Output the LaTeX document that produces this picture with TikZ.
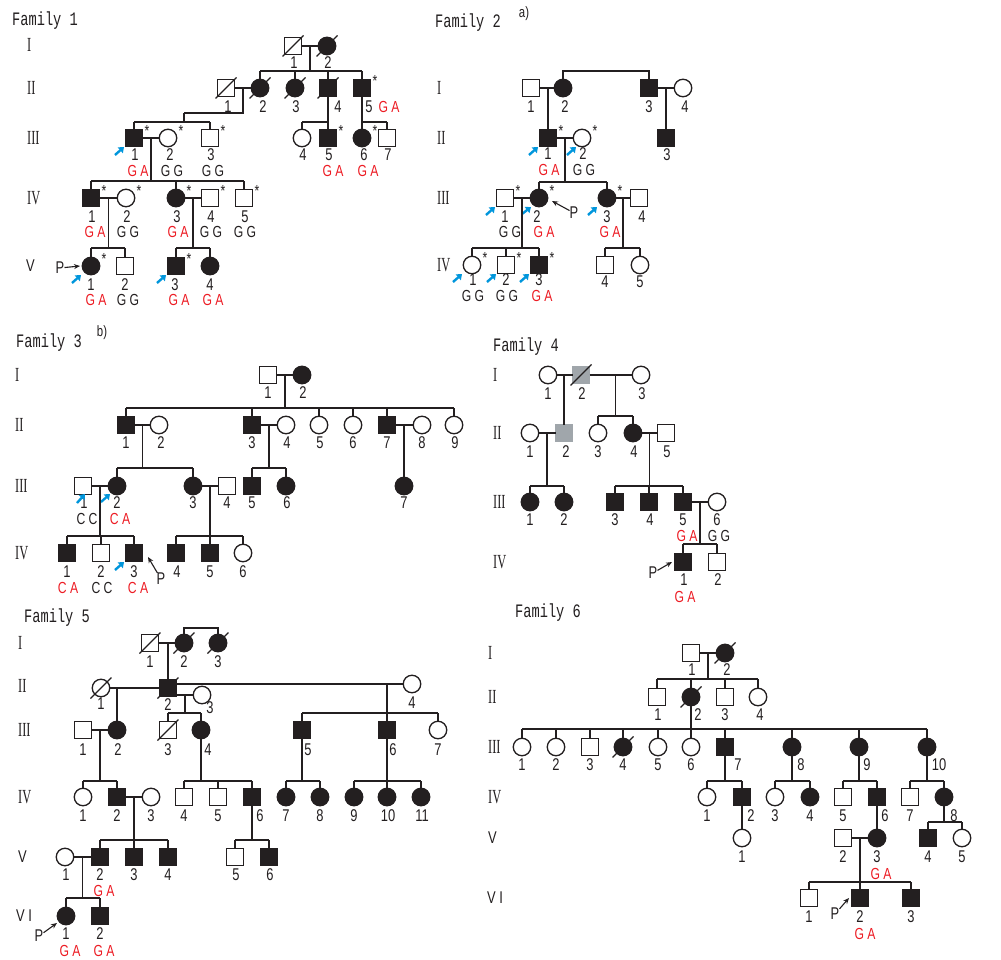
\documentclass[tikz,border=0pt]{standalone}
\usepackage{fontspec}
\usetikzlibrary{calc,arrows.meta}
\newfontfamily\lblf[FakeStretch=0.76]{Liberation Sans}
\newfontfamily\ttlf[FakeStretch=0.72]{Liberation Mono}
\newfontfamily\romf[FakeStretch=0.62]{Liberation Serif}
\definecolor{aff}{RGB}{35,31,32}
\definecolor{gred}{RGB}{237,28,36}
\definecolor{pblue}{RGB}{0,150,220}
\definecolor{pgray}{RGB}{160,166,171}
\tikzset{
  sym/.style={draw=aff,line width=1.3pt,inner sep=0pt,outer sep=0pt},
  ml/.style={sym,rectangle,minimum size=17pt,fill=white},
  fe/.style={sym,circle,minimum size=17.5pt,fill=white},
  af/.style={fill=aff},
  gy/.style={fill=pgray,draw=pgray},
  ln/.style={draw=aff,line width=1.3pt},
  num/.style={font=\lblf\fontsize{17}{17}\selectfont,inner sep=0pt,text=aff},
  gtx/.style={font=\lblf\fontsize{16}{16}\selectfont,inner sep=0pt},
  gen/.style={font=\romf\fontsize{20}{20}\selectfont,inner sep=0pt,anchor=west,text=aff},
  genv/.style={font=\lblf\fontsize{17}{17}\selectfont,inner sep=0pt,anchor=west,text=aff},
  ttl/.style={font=\ttlf\fontsize{19}{19}\selectfont,inner sep=0pt,anchor=west,text=aff},
  supx/.style={font=\lblf\fontsize{15}{15}\selectfont,inner sep=0pt,text=aff},
  ast/.style={font=\lblf\fontsize{16}{16}\selectfont,inner sep=0pt,text=aff},
  barr/.style={draw=pblue,line width=2.4pt,-{Triangle[length=5pt,width=7.5pt]}},
  parr/.style={draw=aff,line width=1.1pt,-{Stealth[length=6pt,width=5pt]}},
}
\newcommand\numl[4]{\node[num] (#1l) at (#2,#3) {#4};}
\newcommand\gtyp[5]{\node[gtx,text=#5] (#1g) at (#2,#3) {#4};}
\newcommand\astr[1]{\node[ast] (#1a) at ($(#1)+(13,-7)$) {*};}
\newcommand\decd[1]{\draw[ln] ($(#1)+(-10.5,10.5)$) -- ($(#1)+(10.5,-10.5)$);}
\newcommand\blarr[1]{\draw[barr] ($(#1)+(-19,17)$) -- ($(#1)+(-10,9)$);}
\newcommand\marr[3]{\draw[ln] (#1) -- coordinate (#3) (#2);}
\newcommand\sibs[3]{%
  \coordinate (sbY) at (0,#2);
  \draw[ln] (#1) -- (#1 |- sbY);
  \foreach \c [count=\i] in {#3} {\draw[ln] (\c) -- (\c |- sbY);
    \ifnum\i=1 \xdef\sbfirst{\c}\fi \xdef\sblast{\c}}
  \draw[ln] (\sbfirst |- sbY) -- (\sblast |- sbY);
}
\begin{document}
\begin{tikzpicture}[x=1pt,y=-1pt]
\useasboundingbox (0,0) rectangle (1001,960);
\fill[white] (0,0) rectangle (1001,960);
% ================= FAMILY 1 =================
\node[ttl] (t1) at (12,21) {Family 1};
\node[gen] (a1g) at (27,45) {I};
\node[gen] (a2g) at (27,88) {II};
\node[gen] (a3g) at (27,138) {III};
\node[gen] (a4g) at (27,198) {IV};
\node[genv] (a5g) at (26,266) {V};
\node[ml] (a1p1) at (293,46) {}; \decd{a1p1}
\node[fe,af] (a1p2) at (327,46) {}; \decd{a1p2}
\numl{a1p1}{294}{63}{1} \numl{a1p2}{328}{63}{2}
\marr{a1p1}{a1p2}{a1m}
\node[ml] (a2p1) at (226,88) {}; \decd{a2p1}
\node[fe,af] (a2p2) at (260,88) {}; \decd{a2p2}
\node[fe,af] (a2p3) at (295,88) {}; \decd{a2p3}
\node[ml,af] (a2p4) at (328,88) {}; \decd{a2p4}
\node[ml,af] (a2p5) at (362,88) {}; \astr{a2p5}
\numl{a2p1}{228}{107}{1} \numl{a2p2}{263}{107}{2} \numl{a2p3}{296}{107}{3}
\numl{a2p4}{338}{107}{4} \numl{a2p5}{369}{107}{5}
\gtyp{a2p5}{389}{107}{G A}{gred}
\sibs{a1m}{71}{a2p2,a2p3,a2p4,a2p5}
\marr{a2p1}{a2p2}{a2m}
\coordinate (a2j) at (184,113);
\draw[ln] (a2m) |- (a2j);
\node[ml,af] (a3p1) at (134,138) {}; \astr{a3p1} \blarr{a3p1}
\node[fe] (a3p2) at (168,138) {}; \astr{a3p2}
\node[ml] (a3p3) at (210,138) {}; \astr{a3p3}
\node[fe] (a3p4) at (302,138) {};
\node[ml,af] (a3p5) at (328,138) {}; \astr{a3p5}
\node[fe,af] (a3p6) at (362,138) {}; \astr{a3p6}
\node[ml] (a3p7) at (387,138) {};
\sibs{a2j}{122}{a3p1,a3p3}
\sibs{a2p4}{122}{a3p4,a3p5}
\sibs{a2p5}{122}{a3p6,a3p7}
\numl{a3p1}{135}{155}{1} \numl{a3p2}{170}{155}{2} \numl{a3p3}{211}{155}{3}
\numl{a3p4}{303}{155}{4} \numl{a3p5}{329}{155}{5} \numl{a3p6}{364}{155}{6} \numl{a3p7}{388}{155}{7}
\gtyp{a3p1}{138}{171}{G A}{gred} \gtyp{a3p2}{172}{171}{G G}{aff} \gtyp{a3p3}{213}{171}{G G}{aff}
\gtyp{a3p5}{333}{171}{G A}{gred} \gtyp{a3p6}{368}{171}{G A}{gred}
\marr{a3p1}{a3p2}{a3m}
\node[ml,af] (a4p1) at (91,198) {}; \astr{a4p1}
\node[fe] (a4p2) at (126,198) {}; \astr{a4p2}
\node[fe,af] (a4p3) at (176,198) {}; \astr{a4p3}
\node[ml] (a4p4) at (210,198) {}; \astr{a4p4}
\node[ml] (a4p5) at (244,198) {}; \astr{a4p5}
\sibs{a3m}{181}{a4p1,a4p3,a4p5}
\numl{a4p1}{92}{217}{1} \numl{a4p2}{127}{217}{2} \numl{a4p3}{177}{217}{3}
\numl{a4p4}{211}{217}{4} \numl{a4p5}{245}{217}{5}
\gtyp{a4p1}{95}{232}{G A}{gred} \gtyp{a4p2}{128}{232}{G G}{aff} \gtyp{a4p3}{178}{232}{G A}{gred}
\gtyp{a4p4}{211}{232}{G G}{aff} \gtyp{a4p5}{245}{232}{G G}{aff}
\marr{a4p1}{a4p2}{a4m}
\marr{a4p3}{a4p4}{a4n}
\node[fe,af] (a5p1) at (91,266) {}; \astr{a5p1} \blarr{a5p1}
\node[ml] (a5p2) at (125,266) {};
\node[ml,af] (a5p3) at (176,266) {}; \astr{a5p3} \blarr{a5p3}
\node[fe,af] (a5p4) at (210,266) {};
\sibs{a4m}{248}{a5p1,a5p2}
\sibs{a4n}{248}{a5p3,a5p4}
\numl{a5p1}{91}{285}{1} \numl{a5p2}{125}{285}{2} \numl{a5p3}{175}{285}{3} \numl{a5p4}{210}{285}{4}
\gtyp{a5p1}{96}{300}{G A}{gred} \gtyp{a5p2}{128}{300}{G G}{aff}
\gtyp{a5p3}{179}{300}{G A}{gred} \gtyp{a5p4}{213}{300}{G A}{gred}
\node[num] (a5P) at (60,268) {P}; \coordinate (a5Pt) at (80,266);
\draw[parr] (a5P) -- (a5Pt);
% ================= FAMILY 2 =================
\node[ttl] (t2) at (435,23) {Family 2};
\node[supx] (t2s) at (524,14) {a)};
\node[gen] (b1g) at (437,88) {I};
\node[gen] (b2g) at (437,138) {II};
\node[gen] (b3g) at (437,198) {III};
\node[gen] (b4g) at (437,265) {IV};
\node[ml] (b1p1) at (531,88) {};
\node[fe,af] (b1p2) at (563,88) {};
\node[ml,af] (b1p3) at (649,88) {};
\node[fe] (b1p4) at (683,88) {};
\numl{b1p1}{531}{107}{1} \numl{b1p2}{565}{107}{2} \numl{b1p3}{649}{107}{3} \numl{b1p4}{685}{107}{4}
\coordinate (b1s) at (0,71);
\draw[ln] (b1p2) -- (b1p2 |- b1s) -- (b1p3 |- b1s) -- (b1p3);
\marr{b1p1}{b1p2}{b1m}
\marr{b1p3}{b1p4}{b1n}
\node[ml,af] (b2p1) at (548,138) {}; \astr{b2p1} \blarr{b2p1}
\node[fe] (b2p2) at (582,138) {}; \astr{b2p2}
\draw[barr] ($(b2p2)+(-15,17)$) -- ($(b2p2)+(-6,9)$);
\node[ml,af] (b2p3) at (666,138) {};
\draw[ln] (b2p1) -- (b2p1 |- b1m);
\draw[ln] (b2p3) -- (b2p3 |- b1n);
\numl{b2p1}{548}{154}{1} \numl{b2p2}{583}{154}{2} \numl{b2p3}{667}{155}{3}
\gtyp{b2p1}{549}{170}{G A}{gred} \gtyp{b2p2}{584}{170}{G G}{aff}
\marr{b2p1}{b2p2}{b2m}
\node[ml] (b3p1) at (505,198) {}; \astr{b3p1} \blarr{b3p1}
\node[fe,af] (b3p2) at (539,198) {}; \astr{b3p2}
\draw[barr] ($(b3p2)+(-17,16)$) -- ($(b3p2)+(-8,9)$);
\node[fe,af] (b3p3) at (607,198) {}; \astr{b3p3} \blarr{b3p3}
\node[ml] (b3p4) at (639,198) {};
\sibs{b2m}{182}{b3p2,b3p3}
\numl{b3p1}{505}{217}{1} \numl{b3p2}{537}{217}{2} \numl{b3p3}{607}{217}{3} \numl{b3p4}{642}{217}{4}
\gtyp{b3p1}{510}{232}{G G}{aff} \gtyp{b3p2}{544}{232}{G A}{gred} \gtyp{b3p3}{610}{232}{G A}{gred}
\node[num] (b3P) at (574,213) {P}; \coordinate (b3Pt) at (552,201);
\draw[parr] (b3P) -- (b3Pt);
\marr{b3p1}{b3p2}{b3m}
\marr{b3p3}{b3p4}{b3n}
\node[fe] (b4p1) at (472,265) {}; \astr{b4p1} \blarr{b4p1}
\node[ml] (b4p2) at (506,265) {}; \astr{b4p2} \blarr{b4p2}
\node[ml,af] (b4p3) at (539,265) {}; \astr{b4p3} \blarr{b4p3}
\node[ml] (b4p4) at (605,265) {};
\node[fe] (b4p5) at (640,265) {};
\sibs{b3m}{248}{b4p1,b4p2,b4p3}
\sibs{b3n}{248}{b4p4,b4p5}
\numl{b4p1}{473}{280}{1} \numl{b4p2}{506}{280}{2} \numl{b4p3}{539}{280}{3}
\numl{b4p4}{605}{282}{4} \numl{b4p5}{640}{282}{5}
\gtyp{b4p1}{473}{296}{G G}{aff} \gtyp{b4p2}{507}{296}{G G}{aff} \gtyp{b4p3}{542}{296}{G A}{gred}
% ================= FAMILY 3 =================
\node[ttl] (t3) at (16,343) {Family 3};
\node[supx] (t3s) at (102,333) {b)};
\node[gen] (c1g) at (15,375) {I};
\node[gen] (c2g) at (15,425) {II};
\node[gen] (c3g) at (15,486) {III};
\node[gen] (c4g) at (15,553) {IV};
\node[ml] (c1p1) at (268,375) {};
\node[fe,af] (c1p2) at (302,375) {};
\numl{c1p1}{268}{393}{1} \numl{c1p2}{303}{393}{2}
\marr{c1p1}{c1p2}{c1m}
\node[ml,af] (c2p1) at (126,425) {};
\node[fe] (c2p2) at (159,425) {};
\node[ml,af] (c2p3) at (252,425) {};
\node[fe] (c2p4) at (286,425) {};
\node[fe] (c2p5) at (319,425) {};
\node[fe] (c2p6) at (353,425) {};
\node[ml,af] (c2p7) at (387,425) {};
\node[fe] (c2p8) at (422,425) {};
\node[fe] (c2p9) at (454,425) {};
\sibs{c1m}{408}{c2p1,c2p3,c2p5,c2p6,c2p7,c2p9}
\numl{c2p1}{126}{443}{1} \numl{c2p2}{161}{443}{2} \numl{c2p3}{252}{443}{3}
\numl{c2p4}{287}{443}{4} \numl{c2p5}{320}{443}{5} \numl{c2p6}{353}{443}{6}
\numl{c2p7}{387}{443}{7} \numl{c2p8}{422}{443}{8} \numl{c2p9}{455}{443}{9}
\marr{c2p1}{c2p2}{c2m}
\marr{c2p3}{c2p4}{c2n}
\marr{c2p7}{c2p8}{c2o}
\node[ml] (c3p1) at (83,486) {};
\node[fe,af] (c3p2) at (117,486) {};
\node[fe,af] (c3p3) at (193,486) {};
\node[ml] (c3p4) at (227,486) {};
\node[ml,af] (c3p5) at (252,486) {};
\node[fe,af] (c3p6) at (286,486) {};
\node[fe,af] (c3p7) at (404,486) {};
\sibs{c2m}{468}{c3p2,c3p3}
\sibs{c2n}{468}{c3p5,c3p6}
\draw[ln] (c3p7) -- (c3p7 |- c2o);
\numl{c3p1}{84}{503}{1} \numl{c3p2}{117}{503}{2} \numl{c3p3}{193}{503}{3}
\numl{c3p4}{227}{503}{4} \numl{c3p5}{252}{503}{5} \numl{c3p6}{287}{503}{6} \numl{c3p7}{404}{503}{7}
\draw[barr] ($(c3p1)+(-6,17)$) -- ($(c3p1)+(2,8)$);
\draw[barr] ($(c3p2)+(-16,16)$) -- ($(c3p2)+(-7,8)$);
\gtyp{c3p1}{87}{519}{C C}{aff} \gtyp{c3p2}{120}{519}{C A}{gred}
\marr{c3p1}{c3p2}{c3m}
\marr{c3p3}{c3p4}{c3n}
\node[ml,af] (c4p1) at (67,553) {};
\node[ml] (c4p2) at (101,553) {};
\node[ml,af] (c4p3) at (134,553) {}; \blarr{c4p3}
\node[ml,af] (c4p4) at (176,553) {};
\node[ml,af] (c4p5) at (210,553) {};
\node[fe] (c4p6) at (243,553) {};
\sibs{c3m}{536}{c4p1,c4p2,c4p3}
\sibs{c3n}{536}{c4p4,c4p5,c4p6}
\numl{c4p1}{67}{572}{1} \numl{c4p2}{101}{572}{2} \numl{c4p3}{134}{572}{3}
\numl{c4p4}{177}{572}{4} \numl{c4p5}{210}{572}{5} \numl{c4p6}{243}{572}{6}
\gtyp{c4p1}{68}{588}{C A}{gred} \gtyp{c4p2}{102}{588}{C C}{aff} \gtyp{c4p3}{138}{588}{C A}{gred}
\node[num] (c4P) at (161,579) {P}; \coordinate (c4Pt) at (148,557);
\draw[parr] (c4P) -- (c4Pt);
% ================= FAMILY 4 =================
\node[ttl] (t4) at (493,347) {Family 4};
\node[gen] (d1g) at (493,375) {I};
\node[gen] (d2g) at (493,433) {II};
\node[gen] (d3g) at (493,502) {III};
\node[gen] (d4g) at (493,562) {IV};
\node[fe] (d1p1) at (548,375) {};
\node[ml,gy] (d1p2) at (581,375) {}; \decd{d1p2}
\node[fe] (d1p3) at (641,375) {};
\numl{d1p1}{548}{394}{1} \numl{d1p2}{582}{394}{2} \numl{d1p3}{642}{394}{3}
\marr{d1p1}{d1p2}{d1m}
\draw[ln] (d1p2) -- coordinate[pos=0.6] (d1n) (d1p3);
\node[fe] (d2p1) at (530,433) {};
\node[ml,gy] (d2p2) at (564,433) {};
\node[fe] (d2p3) at (598,433) {};
\node[fe,af] (d2p4) at (633,433) {};
\node[ml] (d2p5) at (666,433) {};
\draw[ln] (d2p2) -- (d2p2 |- d1m);
\sibs{d1n}{416}{d2p3,d2p4}
\numl{d2p1}{530}{452}{1} \numl{d2p2}{566}{452}{2} \numl{d2p3}{598}{452}{3}
\numl{d2p4}{634}{452}{4} \numl{d2p5}{667}{452}{5}
\marr{d2p1}{d2p2}{d2m}
\marr{d2p4}{d2p5}{d2n}
\node[fe,af] (d3p1) at (530,502) {};
\node[fe,af] (d3p2) at (564,502) {};
\node[ml,af] (d3p3) at (615,502) {};
\node[ml,af] (d3p4) at (649,502) {};
\node[ml,af] (d3p5) at (683,502) {};
\node[fe] (d3p6) at (717,502) {};
\sibs{d2m}{486}{d3p1,d3p2}
\sibs{d2n}{486}{d3p3,d3p4,d3p5}
\numl{d3p1}{530}{520}{1} \numl{d3p2}{564}{520}{2} \numl{d3p3}{615}{520}{3}
\numl{d3p4}{650}{520}{4} \numl{d3p5}{683}{520}{5} \numl{d3p6}{717}{520}{6}
\gtyp{d3p5}{687}{536}{G A}{gred} \gtyp{d3p6}{719}{536}{G G}{aff}
\marr{d3p5}{d3p6}{d3m}
\node[ml,af] (d4p1) at (683,562) {};
\node[ml] (d4p2) at (717,562) {};
\sibs{d3m}{544}{d4p1,d4p2}
\numl{d4p1}{684}{580}{1} \numl{d4p2}{718}{580}{2}
\gtyp{d4p1}{685}{597}{G A}{gred}
\node[num] (d4P) at (653,573) {P}; \coordinate (d4Pt) at (672,562);
\draw[parr] (d4P) -- (d4Pt);
% ================= FAMILY 5 =================
\node[ttl] (t5) at (24,618) {Family 5};
\node[gen] (e1g) at (18,643) {I};
\node[gen] (e2g) at (18,686) {II};
\node[gen] (e3g) at (18,730) {III};
\node[gen] (e4g) at (18,797) {IV};
\node[genv] (e5g) at (18,857) {V};
\node[genv] (e6g) at (16,916) {V I};
\node[ml] (e1p1) at (150,643) {}; \decd{e1p1}
\node[fe,af] (e1p2) at (184,643) {}; \decd{e1p2}
\node[fe,af] (e1p3) at (218,643) {}; \decd{e1p3}
\numl{e1p1}{150}{662}{1} \numl{e1p2}{184}{662}{2} \numl{e1p3}{218}{662}{3}
\coordinate (e1s) at (0,628);
\draw[ln] (e1p2) -- (e1p2 |- e1s) -- (e1p3 |- e1s) -- (e1p3);
\marr{e1p1}{e1p2}{e1m}
\node[fe] (e2p1) at (101,688) {}; \decd{e2p1}
\node[ml,af] (e2p2) at (168,688) {}; \decd{e2p2}
\node[fe] (e2p3) at (202,695) {};
\node[fe] (e2p4) at (412,684) {};
\draw[ln] (e2p2) -- (e2p2 |- e1m);
\draw[ln] (e2p1) -- (e2p2);
\draw[ln] (e2p2.east |- e2p4) -- (e2p4);
\draw[ln] (e2p2.east |- e2p3) -- (e2p3);
\numl{e2p1}{101}{704}{1} \numl{e2p2}{168}{705}{2} \numl{e2p3}{210}{708}{3} \numl{e2p4}{412}{703}{4}
\node[ml] (e3p1) at (83,730) {};
\node[fe,af] (e3p2) at (117,730) {};
\node[ml] (e3p3) at (168,730) {}; \decd{e3p3}
\node[fe,af] (e3p4) at (201,730) {};
\node[ml,af] (e3p5) at (302,730) {};
\node[ml,af] (e3p6) at (387,730) {};
\node[fe] (e3p7) at (438,730) {};
\draw[ln] (e3p2) -- (e3p2 |- e2p1);
\coordinate (e2n) at (e3p6 |- e2p4);
\coordinate (e2m) at (185,695);
\sibs{e2n}{713}{e3p5,e3p6,e3p7}
\sibs{e2m}{713}{e3p3,e3p4}
\numl{e3p1}{83}{750}{1} \numl{e3p2}{118}{750}{2} \numl{e3p3}{168}{750}{3}
\numl{e3p4}{208}{750}{4} \numl{e3p5}{308}{750}{5} \numl{e3p6}{393}{750}{6} \numl{e3p7}{438}{750}{7}
\marr{e3p1}{e3p2}{e3m}
\node[fe] (e4p1) at (83,797) {};
\node[ml,af] (e4p2) at (117,797) {};
\node[fe] (e4p3) at (151,797) {};
\node[ml] (e4p4) at (184,797) {};
\node[ml] (e4p5) at (218,797) {};
\node[ml,af] (e4p6) at (252,797) {};
\node[fe,af] (e4p7) at (286,797) {};
\node[fe,af] (e4p8) at (320,797) {};
\node[fe,af] (e4p9) at (354,797) {};
\node[fe,af] (e4p10) at (387,797) {};
\node[fe,af] (e4p11) at (421,797) {};
\sibs{e3m}{781}{e4p1,e4p2}
\sibs{e3p4}{781}{e4p4,e4p5,e4p6}
\sibs{e3p5}{781}{e4p7,e4p8}
\sibs{e3p6}{781}{e4p9,e4p10,e4p11}
\numl{e4p1}{83}{816}{1} \numl{e4p2}{117}{816}{2} \numl{e4p3}{151}{816}{3}
\numl{e4p4}{184}{816}{4} \numl{e4p5}{218}{816}{5} \numl{e4p6}{260}{816}{6}
\numl{e4p7}{286}{816}{7} \numl{e4p8}{320}{816}{8} \numl{e4p9}{354}{816}{9}
\numl{e4p10}{388}{816}{10} \numl{e4p11}{422}{816}{11}
\marr{e4p2}{e4p3}{e4m}
\node[fe] (e5p1) at (65,857) {};
\node[ml,af] (e5p2) at (100,857) {};
\node[ml,af] (e5p3) at (134,857) {};
\node[ml,af] (e5p4) at (168,857) {};
\node[ml] (e5p5) at (235,857) {};
\node[ml,af] (e5p6) at (269,857) {};
\sibs{e4m}{840}{e5p2,e5p3,e5p4}
\sibs{e4p6}{840}{e5p5,e5p6}
\numl{e5p1}{66}{875}{1} \numl{e5p2}{100}{875}{2} \numl{e5p3}{134}{875}{3}
\numl{e5p4}{168}{875}{4} \numl{e5p5}{236}{875}{5} \numl{e5p6}{270}{875}{6}
\gtyp{e5p2}{104}{891}{G A}{gred}
\marr{e5p1}{e5p2}{e5m}
\node[fe,af] (e6p1) at (66,916) {};
\node[ml,af] (e6p2) at (100,916) {};
\sibs{e5m}{898}{e6p1,e6p2}
\numl{e6p1}{66}{934}{1} \numl{e6p2}{100}{934}{2}
\gtyp{e6p1}{70}{951}{G A}{gred} \gtyp{e6p2}{104}{951}{G A}{gred}
\node[num] (e6P) at (39,936) {P}; \coordinate (e6Pt) at (57,923);
\draw[parr] (e6P) -- (e6Pt);
% ================= FAMILY 6 =================
\node[ttl] (t6) at (515,613) {Family 6};
\node[gen] (f1g) at (488,653) {I};
\node[gen] (f2g) at (488,697) {II};
\node[gen] (f3g) at (488,747) {III};
\node[gen] (f4g) at (488,797) {IV};
\node[genv] (f5g) at (488,838) {V};
\node[genv] (f6g) at (487,898) {V I};
\node[ml] (f1p1) at (691,653) {};
\node[fe,af] (f1p2) at (725,653) {}; \decd{f1p2}
\numl{f1p1}{692}{670}{1} \numl{f1p2}{727}{670}{2}
\marr{f1p1}{f1p2}{f1m}
\node[ml] (f2p1) at (657,697) {};
\node[fe,af] (f2p2) at (691,697) {}; \decd{f2p2}
\node[ml] (f2p3) at (725,697) {};
\node[fe] (f2p4) at (758,697) {};
\sibs{f1m}{679}{f2p1,f2p2,f2p3,f2p4}
\numl{f2p1}{658}{715}{1} \numl{f2p2}{698}{715}{2} \numl{f2p3}{725}{715}{3} \numl{f2p4}{760}{715}{4}
\node[fe] (f3p1) at (522,747) {};
\node[fe] (f3p2) at (556,747) {};
\node[ml] (f3p3) at (590,747) {};
\node[fe,af] (f3p4) at (623,747) {}; \decd{f3p4}
\node[fe] (f3p5) at (658,747) {};
\node[fe] (f3p6) at (691,747) {};
\node[ml,af] (f3p7) at (725,747) {};
\node[fe,af] (f3p8) at (792,747) {};
\node[fe,af] (f3p9) at (859,747) {};
\node[fe,af] (f3p10) at (927,747) {};
\sibs{f2p2}{729}{f3p1,f3p2,f3p3,f3p4,f3p5,f3p6,f3p7,f3p8,f3p9,f3p10}
\numl{f3p1}{522}{765}{1} \numl{f3p2}{556}{765}{2} \numl{f3p3}{590}{765}{3}
\numl{f3p4}{623}{765}{4} \numl{f3p5}{658}{765}{5} \numl{f3p6}{691}{765}{6}
\numl{f3p7}{738}{765}{7} \numl{f3p8}{801}{765}{8} \numl{f3p9}{867}{765}{9} \numl{f3p10}{939}{765}{10}
\node[fe] (f4p1) at (707,797) {};
\node[ml,af] (f4p2) at (742,797) {};
\node[fe] (f4p3) at (775,797) {};
\node[fe,af] (f4p4) at (810,797) {};
\node[ml] (f4p5) at (843,797) {};
\node[ml,af] (f4p6) at (877,797) {};
\node[ml] (f4p7) at (910,797) {};
\node[fe,af] (f4p8) at (944,797) {};
\sibs{f3p7}{781}{f4p1,f4p2}
\sibs{f3p8}{781}{f4p3,f4p4}
\sibs{f3p9}{781}{f4p5,f4p6}
\sibs{f3p10}{781}{f4p7,f4p8}
\numl{f4p1}{707}{816}{1} \numl{f4p2}{751}{816}{2} \numl{f4p3}{775}{816}{3} \numl{f4p4}{810}{816}{4}
\numl{f4p5}{843}{816}{5} \numl{f4p6}{885}{816}{6} \numl{f4p7}{910}{816}{7} \numl{f4p8}{954}{816}{8}
\node[fe] (f5p1) at (742,838) {};
\node[ml] (f5p2) at (843,838) {};
\node[fe,af] (f5p3) at (877,838) {};
\node[ml,af] (f5p4) at (928,838) {};
\node[fe] (f5p5) at (962,838) {};
\draw[ln] (f5p1) -- (f4p2);
\draw[ln] (f5p3) -- (f4p6);
\sibs{f4p8}{822}{f5p4,f5p5}
\numl{f5p1}{742}{857}{1} \numl{f5p2}{843}{857}{2} \numl{f5p3}{877}{857}{3}
\numl{f5p4}{928}{857}{4} \numl{f5p5}{962}{857}{5}
\gtyp{f5p3}{881}{874}{G A}{gred}
\marr{f5p2}{f5p3}{f5m}
\node[ml] (f6p1) at (809,898) {};
\node[ml,af] (f6p2) at (860,898) {};
\node[ml,af] (f6p3) at (911,898) {};
\sibs{f5m}{882}{f6p1,f6p2,f6p3}
\numl{f6p1}{809}{917}{1} \numl{f6p2}{860}{917}{2} \numl{f6p3}{911}{917}{3}
\gtyp{f6p2}{865}{934}{G A}{gred}
\node[num] (f6P) at (835,914) {P}; \coordinate (f6Pt) at (849,898);
\draw[parr] (f6P) -- (f6Pt);
\end{tikzpicture}
\end{document}
